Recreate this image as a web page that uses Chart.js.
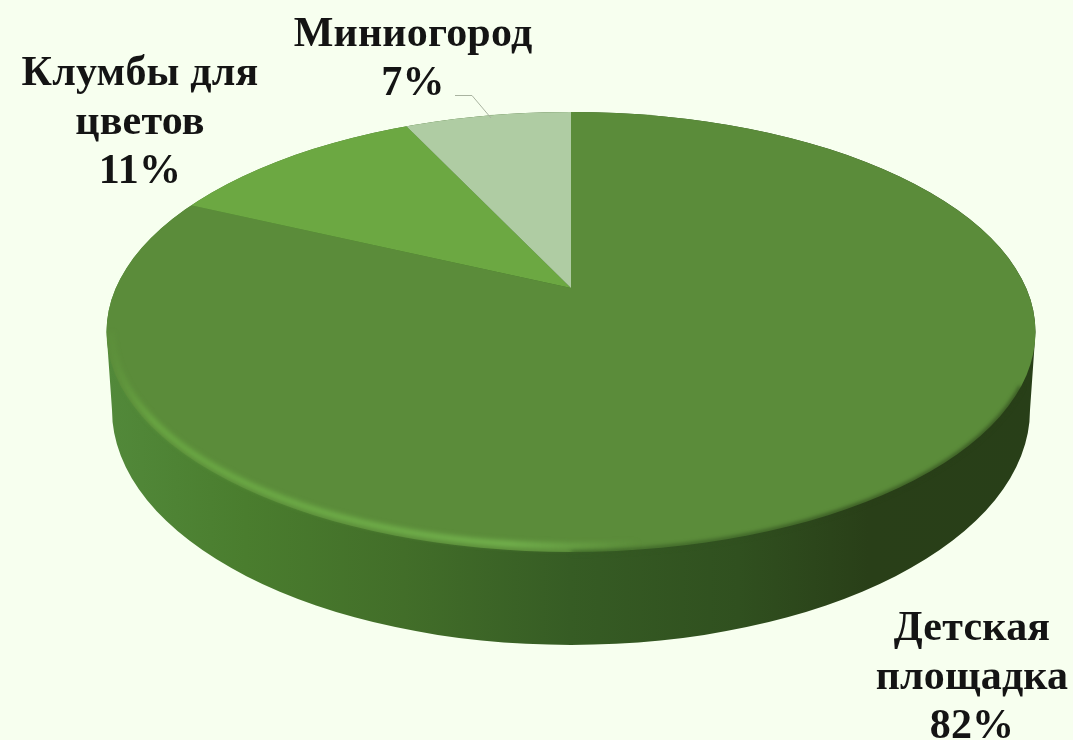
<!DOCTYPE html>
<html lang="ru">
<head>
<meta charset="utf-8">
<title>Круговая диаграмма</title>
<script src="https://cdn.jsdelivr.net/npm/chart.js@4/dist/chart.umd.min.js"></script>
<style>
    html, body { margin: 0; padding: 0; background: #f7ffef; overflow: hidden; }
    canvas { display: block; }
</style>
</head>
<body>
<canvas id="chart" width="1073" height="740"></canvas>
<script>
const categories = ['Детская площадка', 'Клумбы для цветов', 'Миниогород'];
const values = [82, 11, 7];
const sliceColors = ['#5b8c3a', '#6ca842', '#afcca3'];

// centre x and first baseline of every data label
const labelSpots = [
    { x: 972, y: 640 },
    { x: 140, y: 85 },
    { x: 413, y: 46 }
];
const LINE_HEIGHT = 49;

// the wedges meet at apex, but the outline is an ellipse centred lower (perspective)
const apex = { x: 571, y: 288 };
const topFace = { x: 571, y: 332, rx: 464.5, ry: 220 };
const bottomFace = { x: 571, y: 410, rx: 459, ry: 235 };
const SLICE_RX = 640;
const SLICE_RY = 296;

function ellipsePath(ctx, e) {
    ctx.beginPath();
    ctx.ellipse(e.x, e.y, e.rx, e.ry, 0, 0, Math.PI * 2);
}

function wallGradient(ctx) {
    const grad = ctx.createLinearGradient(topFace.x - topFace.rx, 0, topFace.x + topFace.rx, 0);
    grad.addColorStop(0, '#52893a');
    grad.addColorStop(0.15, '#4a7d2e');
    grad.addColorStop(0.32, '#426e29');
    grad.addColorStop(0.5, '#365c24');
    grad.addColorStop(0.68, '#30501f');
    grad.addColorStop(0.82, '#293f18');
    grad.addColorStop(1, '#283f18');
    return grad;
}

function drawWall(ctx) {
    ctx.fillStyle = wallGradient(ctx);
    ctx.beginPath();
    ctx.ellipse(bottomFace.x, bottomFace.y, bottomFace.rx, bottomFace.ry, 0, 0, Math.PI);
    ctx.lineTo(topFace.x - topFace.rx, topFace.y);
    ctx.ellipse(topFace.x, topFace.y, topFace.rx, topFace.ry, 0, Math.PI, 0);
    ctx.closePath();
    ctx.fill();
}

// blurred front edge of the top face, bright on the left half
function drawRim(ctx) {
    ctx.save();
    ctx.filter = 'blur(2px)';
    ctx.strokeStyle = wallGradient(ctx);
    ctx.lineWidth = 3;
    ctx.beginPath();
    ctx.ellipse(topFace.x, topFace.y, topFace.rx, topFace.ry, 0, 0.25, Math.PI / 2);
    ctx.stroke();

    const grad = ctx.createLinearGradient(110, 0, 640, 0);
    grad.addColorStop(0, 'rgba(108,172,68,0.1)');
    grad.addColorStop(0.08, 'rgba(108,172,68,0.9)');
    grad.addColorStop(0.75, 'rgba(116,180,78,1)');
    grad.addColorStop(1, 'rgba(116,180,78,0)');
    ctx.filter = 'blur(2.5px)';
    ctx.strokeStyle = grad;
    ctx.lineWidth = 6;
    ctx.beginPath();
    ctx.ellipse(topFace.x, topFace.y, topFace.rx - 5, topFace.ry - 6, 0, Math.PI * 0.4, Math.PI);
    ctx.stroke();
    ctx.restore();
}

function drawLabels(ctx) {
    ctx.save();
    ctx.filter = 'blur(0.5px)';
    ctx.fillStyle = '#141414';
    ctx.font = 'bold 42px "Liberation Serif", serif';
    ctx.letterSpacing = '0.2px';
    ctx.textAlign = 'center';
    ctx.textBaseline = 'alphabetic';
    categories.forEach((name, i) => {
        const cut = name.lastIndexOf(' ');
        const lines = cut > 0 ? [name.slice(0, cut), name.slice(cut + 1)] : [name];
        lines.push(values[i] + '%');
        lines.forEach((line, n) => {
            ctx.fillText(line, labelSpots[i].x, labelSpots[i].y + n * LINE_HEIGHT);
        });
    });
    ctx.restore();

    // leader line of the smallest slice
    ctx.strokeStyle = '#a9b3a0';
    ctx.lineWidth = 1;
    ctx.beginPath();
    ctx.moveTo(455, 95.5);
    ctx.lineTo(472, 95.5);
    ctx.lineTo(491, 118);
    ctx.stroke();
}

const pie3d = {
    id: 'pie3d',
    beforeDatasetsDraw(chart) {
        const ctx = chart.ctx;
        const arc = chart.getDatasetMeta(0).data[0];
        drawWall(ctx);
        ctx.save();
        ellipsePath(ctx, topFace);
        ctx.clip();
        ctx.translate(apex.x, apex.y);
        ctx.scale(SLICE_RX / arc.outerRadius, SLICE_RY / arc.outerRadius);
        ctx.translate(-arc.x, -arc.y);
    },
    afterDatasetsDraw(chart) {
        const ctx = chart.ctx;
        ctx.restore();
        drawRim(ctx);
        drawLabels(ctx);
    }
};

new Chart(document.getElementById('chart'), {
    type: 'pie',
    data: {
        labels: categories,
        datasets: [{
            data: values,
            backgroundColor: sliceColors,
            borderWidth: 0,
            clip: false
        }]
    },
    options: {
        responsive: false,
        animation: false,
        layout: { padding: { left: 69, right: 0, top: 0, bottom: 164 } },
        plugins: {
            legend: { display: false },
            tooltip: { enabled: false }
        }
    },
    plugins: [pie3d]
});
</script>
</body>
</html>
